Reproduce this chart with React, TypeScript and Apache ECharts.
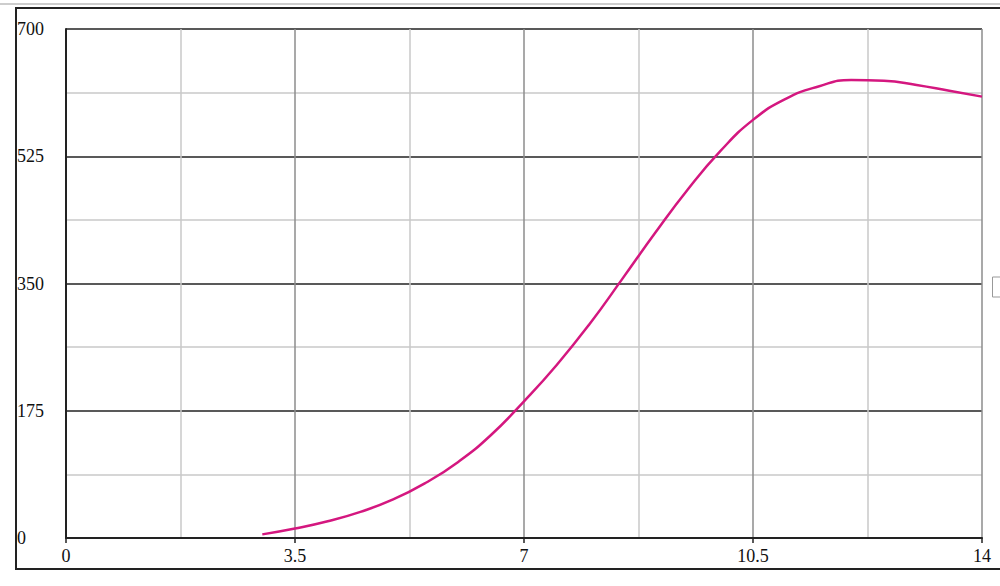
import { useRef, useEffect } from 'react';
import * as echarts from 'echarts';

const xValues = [3, 3.5, 4, 4.5, 5, 5.5, 6, 6.5, 7, 7.5, 8, 8.5, 9, 9.5, 10, 10.5, 11, 11.5, 12, 12.5, 13, 13.5, 14];
const yValues = [5, 13, 23, 36, 53, 76, 105, 142, 188, 238, 294, 356, 419, 479, 532, 575, 604, 621, 630, 629, 623, 615, 607];

const xTicks = [0, 3.5, 7, 10.5, 14];
const yTicks = [0, 175, 350, 525, 700];

const App: React.FC = () => {
    const chartRef = useRef<HTMLDivElement>(null);

    useEffect(() => {
        document.body.style.margin = '0';
        if (chartRef.current) {
            const chart = echarts.init(chartRef.current, null, { renderer: 'svg' });
            const font = 'Liberation Serif';

            const option: echarts.EChartsOption = {
                animation: false,
                backgroundColor: '#ffffff',
                textStyle: { fontFamily: font },
                grid: { left: 66, right: 18, top: 29, bottom: 48 },
                xAxis: {
                    type: 'value',
                    min: xTicks[0],
                    max: xTicks[xTicks.length - 1],
                    interval: 3.5,
                    axisLine: { show: true, onZero: false, lineStyle: { color: '#222', width: 2 } },
                    axisTick: { show: true, length: 5, lineStyle: { color: '#222', width: 1.5 } },
                    axisLabel: {
                        margin: 9,
                        color: '#111',
                        fontFamily: font,
                        fontSize: 18,
                        showMinLabel: true,
                        showMaxLabel: true,
                    },
                    splitLine: { show: true, lineStyle: { color: '#8c8c8c', width: 1.5 } },
                    minorTick: { show: false, splitNumber: 2 },
                    minorSplitLine: { show: true, lineStyle: { color: '#c8c8c8', width: 1.5 } },
                },
                yAxis: {
                    type: 'value',
                    min: yTicks[0],
                    max: yTicks[yTicks.length - 1],
                    interval: 175,
                    axisLine: { show: true, onZero: false, lineStyle: { color: '#222', width: 2 } },
                    axisTick: { show: false },
                    axisLabel: {
                        margin: 49,
                        align: 'left',
                        color: '#111',
                        fontFamily: font,
                        fontSize: 18,
                    },
                    splitLine: { show: true, lineStyle: { color: '#222', width: 1.5 } },
                    minorTick: { show: false, splitNumber: 2 },
                    minorSplitLine: { show: true, lineStyle: { color: '#c8c8c8', width: 1.5 } },
                },
                graphic: [
                    {
                        type: 'line',
                        shape: { x1: 0, y1: 4, x2: 1000, y2: 4 },
                        style: { stroke: '#bdbdbd', lineWidth: 1.5 },
                    },
                    {
                        type: 'rect',
                        shape: { x: 16, y: 8, width: 1000, height: 561 },
                        style: { fill: 'none', stroke: '#222', lineWidth: 2 },
                    },
                    {
                        type: 'rect',
                        shape: { x: 992.5, y: 277, width: 20, height: 20 },
                        style: { fill: '#fff', stroke: '#999', lineWidth: 1 },
                    },
                ],
                series: [
                    {
                        type: 'line',
                        smooth: 0.5,
                        symbol: 'none',
                        lineStyle: { color: '#d4177f', width: 2.5 },
                        data: xValues.map((x, i) => [x, yValues[i]]),
                    },
                ],
            };

            chart.setOption(option);

            return () => {
                chart.dispose();
            };
        }
    }, []);

    return <div ref={chartRef} style={{ width: '1000px', height: '586px' }} />;
};

export default App;
